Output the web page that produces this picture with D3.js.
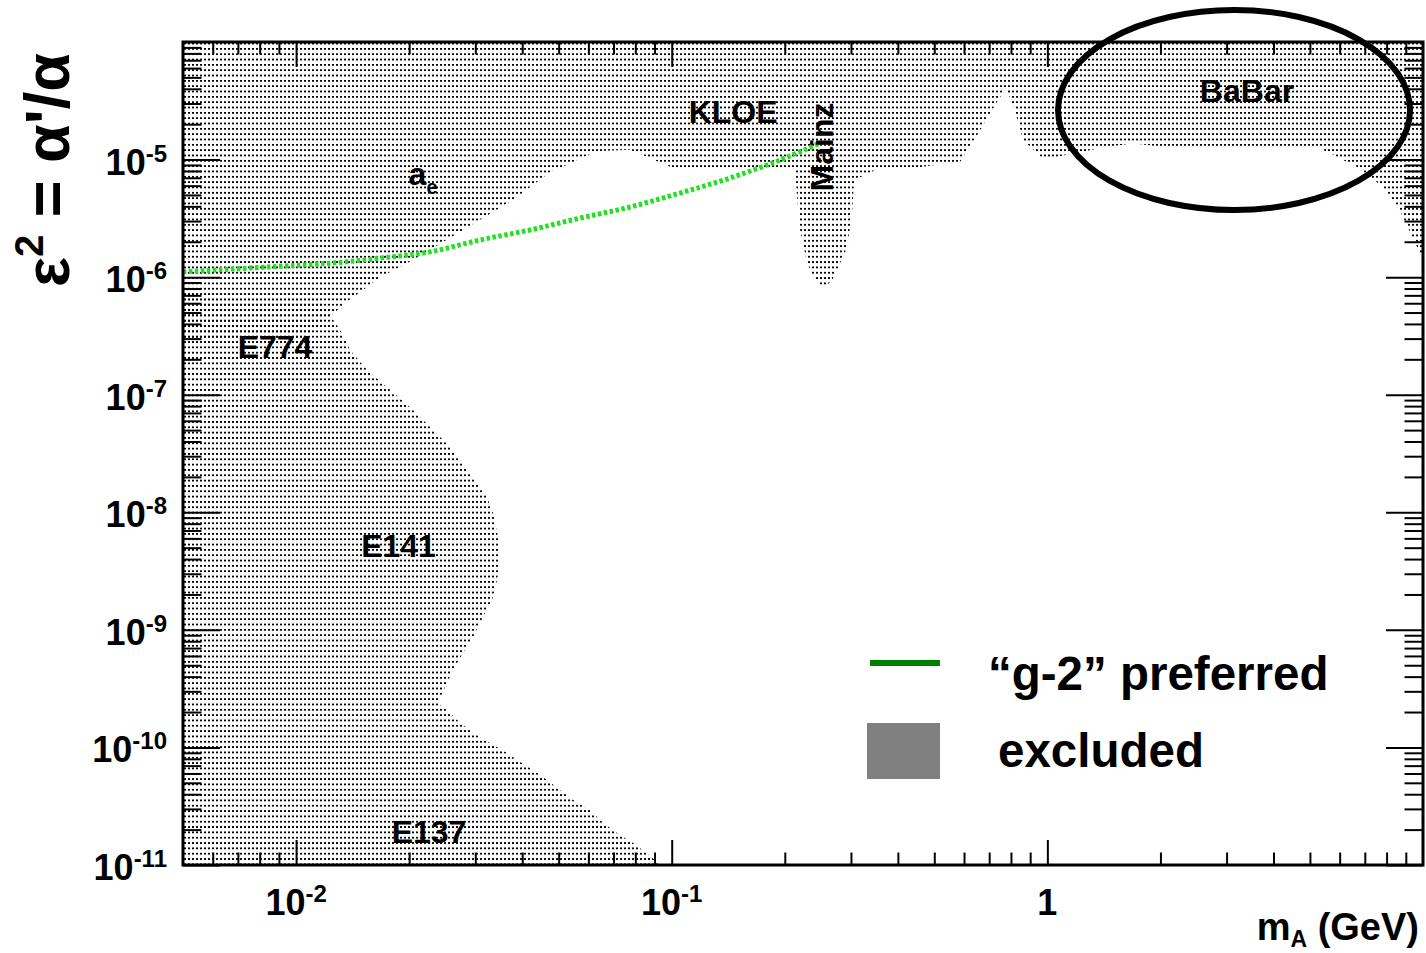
<!DOCTYPE html>
<html>
<head>
<meta charset="utf-8">
<script src="https://cdn.jsdelivr.net/npm/d3@7/dist/d3.min.js"></script>
<style>
  html, body { margin: 0; padding: 0; background: #fff; }
  svg text { font-family: "Liberation Sans", Arial, Helvetica, sans-serif; font-weight: bold; fill: #000; }
</style>
</head>
<body>
<div id="chart"></div>
<script>
// ===========================
// Dark photon exclusion plot: eps^2 vs m_A
// ===========================

// ── Data (mass in GeV, eps^2) ────────────────────────────────────────────────
// lower edge of the upper excluded band: a_e, KLOE, Mainz, phi peak, BaBar
const aeBound = [
    [0.01024, 2.92e-7], [0.01246, 4.76e-7], [0.0135, 6.03e-7], [0.01508, 7.77e-7],
    [0.01673, 1.00e-6], [0.02048, 1.40e-6], [0.02782, 2.52e-6], [0.0378, 4.53e-6],
    [0.04831, 8.15e-6], [0.05264, 8.99e-6], [0.05808, 1.05e-5], [0.06444, 1.18e-5],
    [0.07746, 1.21e-5], [0.08597, 1.05e-5], [0.1008, 8.48e-6]
];
const kloeBound = [[0.119, 8.48e-6], [0.1521, 8.48e-6], [0.213, 8.31e-6]];
const mainzBound = [
    [0.2157, 4.80e-6], [0.2197, 2.52e-6], [0.2293, 1.32e-6], [0.2408, 9.46e-7],
    [0.2529, 8.24e-7], [0.2656, 9.09e-7], [0.2756, 1.15e-6], [0.293, 1.80e-6],
    [0.3021, 3.51e-6], [0.3058, 6.70e-6]
];
const babarBound = [
    [0.3587, 8.48e-6], [0.4584, 8.65e-6], [0.5856, 9.54e-6], [0.6622, 1.78e-5],
    [0.7257, 2.91e-5], [0.7764, 4.06e-5], [0.8156, 2.75e-5], [0.8618, 1.47e-5],
    [0.9623, 1.05e-5], [1.055, 1.05e-5], [1.222, 1.16e-5], [1.443, 1.28e-5],
    [1.692, 1.38e-5], [2.021, 1.28e-5], [3.465, 1.28e-5], [5.226, 1.28e-5],
    [6.678, 8.65e-6], [7.832, 5.84e-6], [8.746, 3.51e-6], [9.587, 1.88e-6], [10, 1.46e-6]
];
// right edge of the beam-dump region: E774, E141, E137
const beamDumpBound = [
    [0.01158, 6.39e-7], [0.01246, 4.49e-7], [0.01325, 3.35e-7], [0.01392, 2.40e-7],
    [0.01545, 1.62e-7], [0.01779, 1.10e-7], [0.02048, 7.41e-8], [0.02273, 5.31e-8],
    [0.0257, 3.59e-8], [0.02904, 2.16e-8], [0.03088, 1.64e-8], [0.03223, 1.35e-8],
    [0.03344, 9.86e-9], [0.03449, 6.16e-9], [0.03491, 4.17e-9], [0.03428, 2.65e-9],
    [0.03323, 1.79e-9], [0.03145, 1.29e-9], [0.02958, 8.70e-10], [0.02782, 6.36e-10],
    [0.02617, 4.55e-10], [0.02492, 3.27e-10], [0.02387, 2.39e-10], [0.02522, 2.08e-10],
    [0.02682, 1.71e-10], [0.02958, 1.33e-10], [0.03284, 1.09e-10], [0.03643, 8.96e-11],
    [0.03947, 7.52e-11], [0.04274, 6.43e-11], [0.04657, 5.28e-11], [0.05043, 4.34e-11],
    [0.05462, 3.57e-11], [0.06062, 2.94e-11], [0.06566, 2.28e-11], [0.07153, 1.87e-11],
    [0.07888, 1.54e-11], [0.08597, 1.26e-11], [0.09031, 1.10e-11], [0.09311, 1.0e-11]
];
// "g-2" preferred line
const g2Line = [
    [0.005, 1.11e-6], [0.00837, 1.22e-6], [0.01254, 1.32e-6], [0.01704, 1.46e-6],
    [0.02273, 1.64e-6], [0.03088, 2.07e-6], [0.04196, 2.52e-6], [0.05702, 3.18e-6],
    [0.07746, 3.95e-6], [0.1052, 5.19e-6], [0.143, 6.97e-6], [0.1943, 9.92e-6],
    [0.2482, 1.38e-5]
];
// experiment labels [text, mass, eps^2, rotated]
const expLabels = [
    ['KLOE', 0.1457, 2.05e-5, false],
    ['BaBar', 3.40, 3.09e-5, false],
    ['E774', 0.00879, 2.05e-7, false],
    ['E141', 0.01874, 4.17e-9, false],
    ['E137', 0.02259, 1.54e-11, false],
    ['Mainz', 0.2513, 1.28e-5, true]
];
const aeLabel = [0.02178, 6.08e-6];
const babarCircle = { mass: 3.14, eps2: 2.64e-5 };

const xTicks = [{ v: 0.01, base: '10', exp: '-2' }, { v: 0.1, base: '10', exp: '-1' }, { v: 1, base: '1', exp: '' }];
const yTickExps = [-5, -6, -7, -8, -9, -10, -11];
const legendItems = ['\u201cg-2\u201d preferred', 'excluded'];

// ── Layout ─────────────────────────────────────────────────────────────────
const W = 1426, H = 953;
const plot = { left: 183, right: 1423, top: 42, bottom: 865 };

const x = d3.scaleLog().domain([0.005, 10]).range([plot.left, plot.right]);
const y = d3.scaleLog().domain([1e-11, 1e-4]).range([plot.bottom, plot.top]);

const svg = d3.select('#chart').append('svg')
    .attr('width', W).attr('height', H)
    .style('display', 'block');

svg.append('rect').attr('width', W).attr('height', H).attr('fill', '#fff');

const defs = svg.append('defs');
const pat = defs.append('pattern')
    .attr('id', 'dots')
    .attr('patternUnits', 'userSpaceOnUse')
    .attr('width', 4).attr('height', 5.33);
pat.append('rect').attr('width', 2).attr('height', 1.8).attr('fill', '#000');

defs.append('clipPath').attr('id', 'plotClip')
    .append('rect')
    .attr('x', plot.left).attr('y', plot.top)
    .attr('width', plot.right - plot.left).attr('height', plot.bottom - plot.top);

const line = d3.line().x(d => x(d[0])).y(d => y(d[1]));
const [xMin, xMax] = x.domain();
const [yMin, yMax] = y.domain();

// ── Excluded regions ───────────────────────────────────────────────────────
const upperBound = [...aeBound, ...kloeBound, ...mainzBound, ...babarBound];
const upperPoly = [[xMin, yMax], [xMin, upperBound[0][1]], ...upperBound,
    [xMax, upperBound[upperBound.length - 1][1]], [xMax, yMax]];
const lowerPoly = [[xMin, yMin], [xMin, beamDumpBound[0][1]], ...beamDumpBound,
    [beamDumpBound[beamDumpBound.length - 1][0], yMin]];

const gPlot = svg.append('g').attr('clip-path', 'url(#plotClip)');
[upperPoly, lowerPoly].forEach(poly => {
    gPlot.append('path')
        .attr('d', line(poly) + 'Z')
        .attr('fill', 'url(#dots)');
});

// g-2 preferred (dotted bright green)
gPlot.append('path')
    .attr('d', line.curve(d3.curveCatmullRom)(g2Line))
    .attr('fill', 'none')
    .attr('stroke', '#22e022')
    .attr('stroke-width', 5)
    .attr('stroke-dasharray', '3.5,2.5');
line.curve(d3.curveLinear);

// ── Axes (ROOT style, ticks inside on all four sides) ─────────────────────
const xMinor = [], yMinor = [];
for (let e = -3; e <= 0; e++) for (let m = 2; m <= 9; m++) {
    const v = m * Math.pow(10, e);
    if (v > xMin && v < xMax) xMinor.push(v);
}
for (let e = -11; e <= -5; e++) for (let m = 2; m <= 9; m++) yMinor.push(m * Math.pow(10, e));
const xMajor = xTicks.map(t => t.v);
const yMajor = d3.range(-11, -4).map(e => Math.pow(10, e));

function drawTicks(axisFn, scale, vals, size, transform) {
    const g = svg.append('g')
        .attr('transform', transform)
        .call(axisFn(scale).tickValues(vals).tickSize(-size).tickFormat(''));
    g.select('.domain').remove();
    g.selectAll('line').attr('stroke', '#000').attr('stroke-width', 2);
}
const xLen = 25, yLen = 37;
drawTicks(d3.axisBottom, x, xMinor, xLen / 2, `translate(0,${plot.bottom})`);
drawTicks(d3.axisBottom, x, xMajor, xLen, `translate(0,${plot.bottom})`);
drawTicks(d3.axisTop, x, xMinor, xLen / 2, `translate(0,${plot.top})`);
drawTicks(d3.axisTop, x, xMajor, xLen, `translate(0,${plot.top})`);
drawTicks(d3.axisLeft, y, yMinor, yLen / 2, `translate(${plot.left},0)`);
drawTicks(d3.axisLeft, y, yMajor, yLen, `translate(${plot.left},0)`);
drawTicks(d3.axisRight, y, yMinor, yLen / 2, `translate(${plot.right},0)`);
drawTicks(d3.axisRight, y, yMajor, yLen, `translate(${plot.right},0)`);

svg.append('rect')
    .attr('x', plot.left).attr('y', plot.top)
    .attr('width', plot.right - plot.left).attr('height', plot.bottom - plot.top)
    .attr('fill', 'none').attr('stroke', '#000').attr('stroke-width', 3);

// tick labels
yTickExps.forEach(e => {
    const t = svg.append('text')
        .attr('x', 167).attr('y', y(Math.pow(10, e)) + 15)
        .attr('text-anchor', 'end')
        .style('font-size', '36px')
        .text('10');
    t.append('tspan').attr('dy', -13).style('font-size', '24px').text(String(e));
});
xTicks.forEach(tk => {
    const t = svg.append('text')
        .attr('x', x(tk.v)).attr('y', 915)
        .attr('text-anchor', 'middle')
        .style('font-size', '36px')
        .text(tk.base);
    if (tk.exp) t.append('tspan').attr('dy', -13).style('font-size', '24px').text(tk.exp);
});

// axis titles
const yt = svg.append('text')
    .attr('transform', 'translate(69,170) rotate(-90)')
    .attr('text-anchor', 'middle')
    .style('font-size', '63px')
    .text('\u03b5');
yt.append('tspan').attr('dy', -26).style('font-size', '40px').text('2');
yt.append('tspan').attr('dy', 26).text(' = \u03b1\'/\u03b1');

const xt = svg.append('text')
    .attr('x', 1419).attr('y', 940)
    .attr('text-anchor', 'end')
    .style('font-size', '38px')
    .text('m');
xt.append('tspan').attr('dy', 7).style('font-size', '23px').text('A');
xt.append('tspan').attr('dy', -7).text(' (GeV)');

// ── Annotations ────────────────────────────────────────────────────────────
expLabels.forEach(([txt, m, e2, rot]) => {
    const t = svg.append('text')
        .attr('text-anchor', 'middle')
        .style('font-size', '32px')
        .text(txt);
    if (rot) {
        t.attr('transform', `translate(${x(m) + 11},${y(e2)}) rotate(-90)`);
    } else {
        t.attr('x', x(m)).attr('y', y(e2));
    }
});
const ae = svg.append('text')
    .attr('x', x(aeLabel[0])).attr('y', y(aeLabel[1]))
    .attr('text-anchor', 'middle')
    .style('font-size', '32px')
    .text('a');
ae.append('tspan').attr('dy', 9).style('font-size', '20px').text('e');

svg.append('ellipse')
    .attr('cx', x(babarCircle.mass)).attr('cy', y(babarCircle.eps2))
    .attr('rx', 176).attr('ry', 100)
    .attr('fill', 'none').attr('stroke', '#000').attr('stroke-width', 6);

// ── Legend ─────────────────────────────────────────────────────────────────
svg.append('line')
    .attr('x1', 870).attr('x2', 940).attr('y1', 663).attr('y2', 663)
    .attr('stroke', '#008000').attr('stroke-width', 6);
svg.append('rect')
    .attr('x', 867).attr('y', 723).attr('width', 73).attr('height', 56)
    .attr('fill', '#808080');
svg.append('text').attr('x', 988).attr('y', 690).style('font-size', '47.5px').text(legendItems[0]);
svg.append('text').attr('x', 998).attr('y', 767).style('font-size', '47.5px').text(legendItems[1]);
</script>
</body>
</html>
